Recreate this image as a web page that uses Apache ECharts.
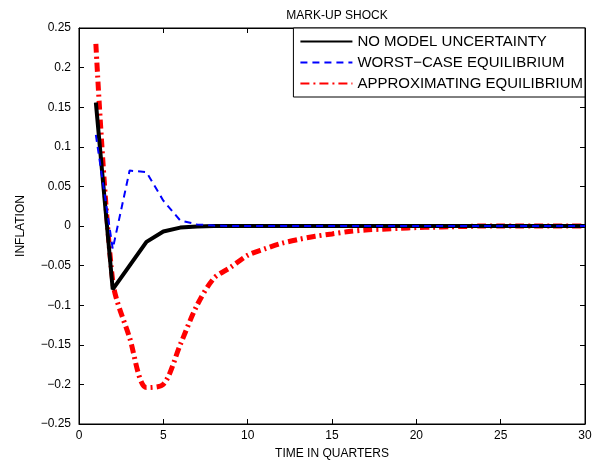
<!DOCTYPE html>
<html>
<head>
<meta charset="utf-8">
<script src="https://cdn.jsdelivr.net/npm/echarts@6/dist/echarts.min.js"></script>
<style>body{margin:0;background:#fff}#main{width:602px;height:470px}</style>
</head>
<body>
<div id="main"></div>
<script>
'use strict';

// quarters 1..30
var quarters = [];
for (var q = 1; q <= 30; q++) quarters.push(q);

var noUncertainty = [0.156, -0.08, -0.05, -0.02, -0.007, -0.002, -0.0005, 0, 0, 0,
	0, 0, 0, 0, 0, 0, 0, 0, 0, 0, 0, 0, 0, 0, 0, 0, 0, 0, 0, 0];
var worstCase = [0.115, -0.029, 0.07, 0.068, 0.032, 0.007, 0.002, 0.0005, 0, 0,
	0, 0, 0, 0, 0, 0, 0, 0, 0, 0, 0, 0, 0, 0, 0, 0, 0, 0, 0, 0];
var approximating = [0.23, -0.07, -0.141, -0.204, -0.2, -0.15, -0.1, -0.066, -0.052, -0.037,
	-0.029, -0.022, -0.017, -0.013, -0.01, -0.007, -0.005, -0.004, -0.003, -0.002,
	-0.0015, -0.001, -0.0005, 0, 0, 0, 0, 0, 0, 0];

function pairs(vals) {
	return vals.map(function(v, i) { return [quarters[i], v]; });
}

var myChart = echarts.init(document.getElementById('main'));
var font = 'Liberation Sans, Arial, sans-serif';
var axisBase = {
	axisLine: { show: true, onZero: false, lineStyle: { color: '#000', width: 1 } },
	axisTick: { show: true, inside: true, length: 5, lineStyle: { color: '#000' } },
	splitLine: { show: false },
	axisLabel: { color: '#000', fontFamily: font, fontSize: 12 }
};

var option = {
	animation: false,
	title: {
		text: 'MARK-UP SHOCK',
		left: 332, top: 5, textAlign: 'center',
		textStyle: { fontFamily: font, fontSize: 12, fontWeight: 'normal', color: '#000' }
	},
	grid: { left: 79, right: 17, top: 28, bottom: 46, show: true, borderColor: '#000', borderWidth: 1 },
	legend: {
		orient: 'vertical', right: 17, top: 28,
		backgroundColor: '#fff', borderColor: '#000', borderWidth: 1,
		padding: [6, 2, 6, 6], itemGap: 6, itemWidth: 52, itemHeight: 15,
		itemStyle: { opacity: 0 },
		textStyle: { fontFamily: font, fontSize: 15, color: '#000' },
		data: ['NO MODEL UNCERTAINTY', 'WORST\u2212CASE EQUILIBRIUM', 'APPROXIMATING EQUILIBRIUM']
	},
	xAxis: [
		Object.assign({}, axisBase, {
			type: 'value', min: 0, max: 30, interval: 5,
			name: 'TIME IN QUARTERS', nameLocation: 'middle', nameGap: 24,
			nameTextStyle: { fontFamily: font, fontSize: 12, color: '#000' },
			axisLabel: Object.assign({}, axisBase.axisLabel, { margin: 6 })
		}),
		Object.assign({}, axisBase, { type: 'value', position: 'top', min: 0, max: 30, interval: 5, axisLabel: { show: false } })
	],
	yAxis: [
		Object.assign({}, axisBase, {
			type: 'value', min: -0.25, max: 0.25, interval: 0.05,
			name: 'INFLATION', nameLocation: 'middle', nameGap: 52,
			nameTextStyle: { fontFamily: font, fontSize: 12, color: '#000' },
			axisLabel: Object.assign({}, axisBase.axisLabel, {
				formatter: function(v) { return String(Math.round(v * 100) / 100).replace('-', '\u2212'); }
			})
		}),
		Object.assign({}, axisBase, { type: 'value', position: 'right', min: -0.25, max: 0.25, interval: 0.05, axisLabel: { show: false } })
	],
	series: [
		{
			name: 'NO MODEL UNCERTAINTY', type: 'line', data: pairs(noUncertainty),
			showSymbol: false, symbol: 'none', color: '#000',
			lineStyle: { color: '#000', width: 4 }, z: 3
		},
		{
			name: 'WORST\u2212CASE EQUILIBRIUM', type: 'line', data: pairs(worstCase),
			showSymbol: false, symbol: 'none', color: '#0000ff',
			lineStyle: { color: '#0000ff', width: 2, type: [7, 5] }, z: 4
		},
		{
			name: 'APPROXIMATING EQUILIBRIUM', type: 'line', data: pairs(approximating),
			showSymbol: false, symbol: 'none', color: '#ff0000', smooth: 0.3,
			lineStyle: { color: '#ff0000', width: 5, type: [9, 4, 2, 4] }, z: 2
		}
	]
};

myChart.setOption(option);
</script>
</body>
</html>
